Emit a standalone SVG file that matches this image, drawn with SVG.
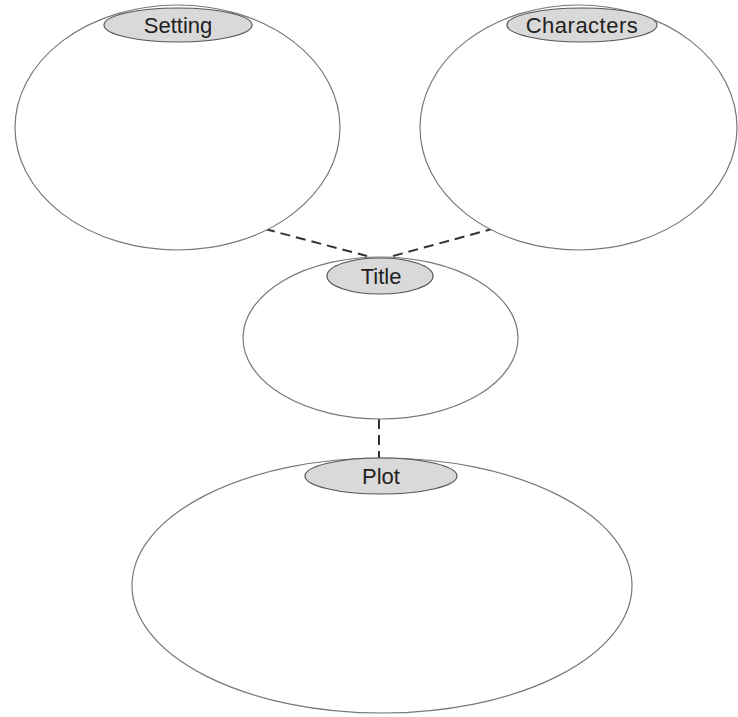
<svg xmlns="http://www.w3.org/2000/svg" width="738" height="717" viewBox="0 0 738 717">
<style>
.big{fill:#fff;stroke:#777;stroke-width:1.2}
.lab{fill:#d9d9d9;stroke:#555;stroke-width:1.2}
.t{font-family:"Liberation Sans",Arial,sans-serif;font-size:22px;fill:#222;text-anchor:middle;dominant-baseline:central}
.c{stroke:#333;stroke-width:2;stroke-dasharray:10 6;fill:none}
</style>
<rect width="738" height="717" fill="#fff"/>
<g id="connectors">
<line class="c" x1="265" y1="229" x2="367" y2="256"/>
<line class="c" x1="393" y1="256" x2="492" y2="229"/>
<line class="c" x1="379" y1="419" x2="379" y2="458"/>
</g>
<g id="setting">
<ellipse class="big" cx="177.5" cy="127.5" rx="162.5" ry="122.5"/>
<ellipse class="lab" cx="178" cy="25" rx="74" ry="17"/>
<text class="t" x="178" y="25">Setting</text>
</g>
<g id="characters">
<ellipse class="big" cx="578.5" cy="127.5" rx="158.5" ry="122.5"/>
<ellipse class="lab" cx="582" cy="25" rx="75" ry="17"/>
<text class="t" x="582" y="25" letter-spacing="0.5">Characters</text>
</g>
<g id="title">
<ellipse class="big" cx="380.5" cy="338" rx="137.5" ry="81"/>
<ellipse class="lab" cx="380" cy="276" rx="53" ry="18"/>
<text class="t" x="381" y="276">Title</text>
</g>
<g id="plot">
<ellipse class="big" cx="382" cy="585.5" rx="250" ry="127.5"/>
<ellipse class="lab" cx="381" cy="476" rx="76" ry="18"/>
<text class="t" x="381" y="476">Plot</text>
</g>
</svg>
